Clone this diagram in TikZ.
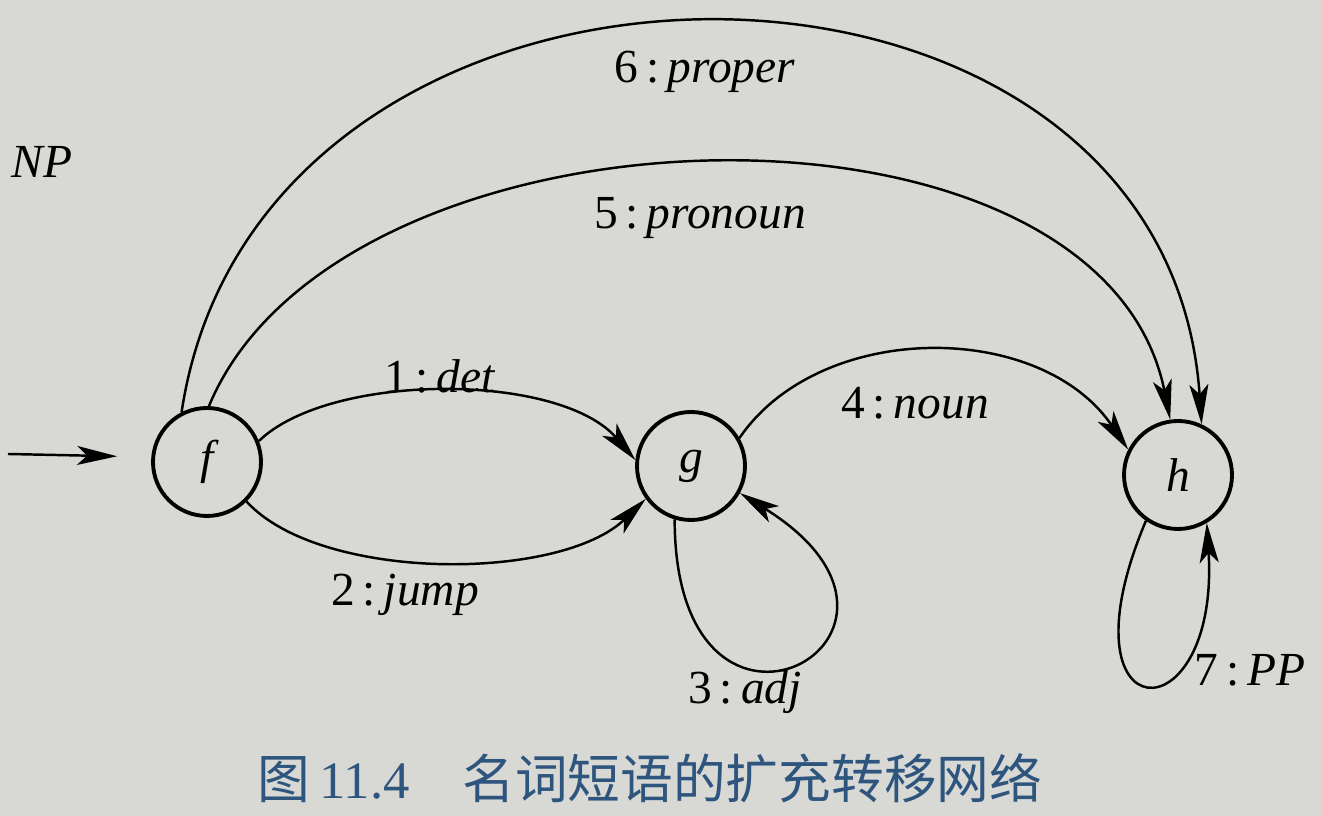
\documentclass[tikz,border=0pt]{standalone}
\usepackage{fontspec}
\setmainfont{Liberation Serif}
\newfontfamily\cjk{Noto Sans CJK SC}
\usetikzlibrary{arrows.meta}
\definecolor{paper}{RGB}{216,216,212}
\definecolor{capblue}{RGB}{45,85,125}

\begin{document}
\begin{tikzpicture}[
  stnode/.style={circle, draw, line width=2.2pt, minimum size=2.16cm, inner sep=0pt, font=\fontsize{27}{31}\selectfont\itshape},
  trans/.style={line width=1.4pt, -{Stealth[length=8mm,width=3.8mm,inset=2mm]}},
  lbl/.style={font=\fontsize{27}{31}\selectfont}]
\useasboundingbox (0,0) rectangle (26.44,16.32);
\fill[paper] (0,0) rectangle (26.44,16.32);

\node [stnode] (f) at (4.14,7.08) {f};
\node [stnode] (g) at (13.82,7.0) {g};
\node [stnode] (h) at (23.56,6.82) {h};
\coordinate (start) at (0.16,7.24);

\draw[trans, shorten >=0.68cm] (start) -- ([yshift=0.1cm]f.west);
\draw[trans] (f.117) .. controls (5.2,18.5) and (23.3,18.5) .. (h.65);
\draw[trans] (f.88) .. controls (6.8,14.5) and (22.0,14.9) .. (h.98);
\draw[trans] (f.22) .. controls (6.6,8.88) and (11.2,8.88) .. (g.174);
\draw[trans] (f.-45) .. controls (6.4,4.68) and (11.2,4.68) .. (g.216);
\draw[trans] (g.30) .. controls (16.4,9.92) and (20.8,9.92) .. (h.153);
\draw[trans] (g.253) .. controls (13.5,0.4) and (19.4,3.6) .. (g.-29);
\draw[trans] (h.235) .. controls (21.1,1.6) and (24.4,1.52) .. (h.-59);

\node [lbl] (np) at (0.84,13.08) {\textit{NP}};
\node [lbl] (l6) at (14.1,14.88) {6\,:\,\textit{proper}};
\node [lbl] (l5) at (14.0,11.96) {5\,:\,\textit{pronoun}};
\node [lbl] (l1) at (8.8,8.8) {1\,:\,\textit{det}};
\node [lbl] (l2) at (8.1,4.42) {2\,:\,\textit{jump}};
\node [lbl] (l4) at (18.3,8.26) {4\,:\,\textit{noun}};
\node [lbl] (l3) at (14.9,2.48) {3\,:\,\textit{adj}};
\node [lbl] (l7) at (25.0,2.92) {7\,:\,\textit{PP}};

\node [capblue, font=\fontsize{30}{34}\selectfont] (cap) at (13.0,0.76) {{\cjk 图}\,11.4\quad{\cjk 名词短语的扩充转移网络}};
\end{tikzpicture}
\end{document}
